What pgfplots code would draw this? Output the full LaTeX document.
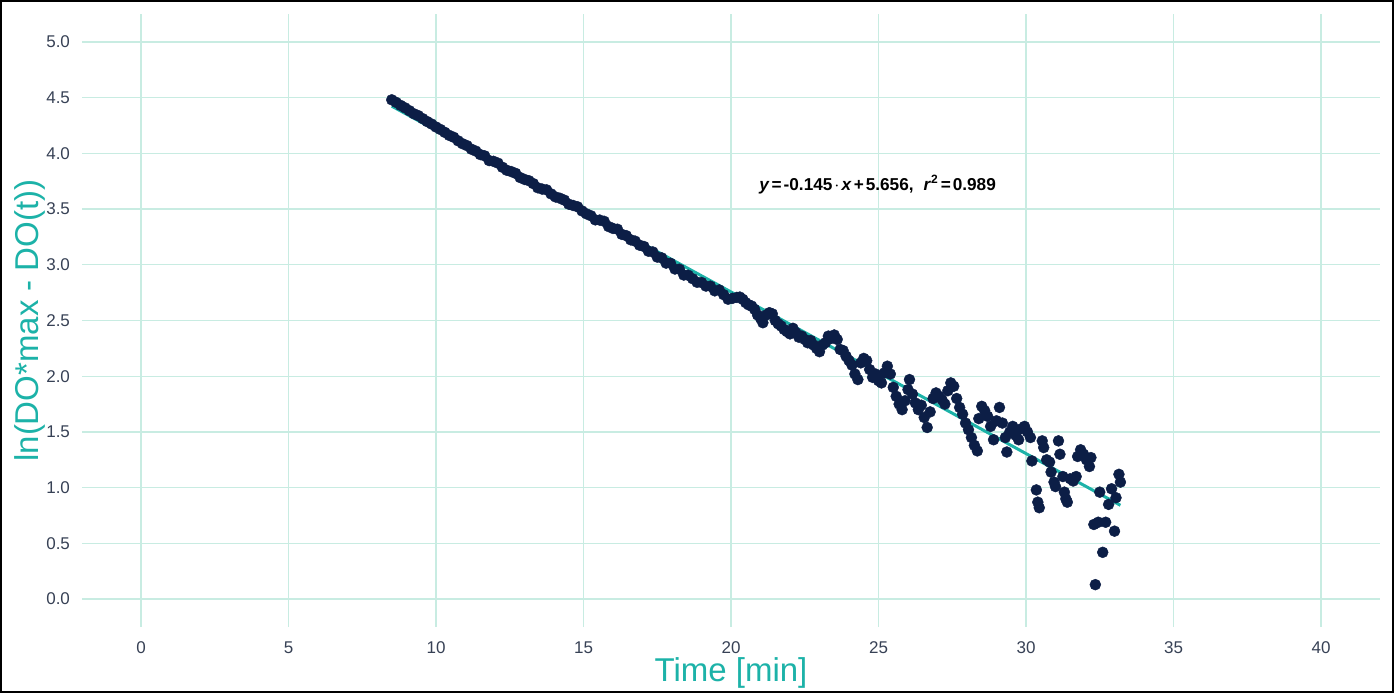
\documentclass[border=0pt]{standalone}
\usepackage{pgfplots}
\pgfplotsset{compat=1.18}
\usepackage{fontspec}
\setmainfont{Liberation Sans}
\definecolor{gridc}{RGB}{200,236,226}
\definecolor{teal2}{RGB}{28,178,168}
\definecolor{navy}{RGB}{12,30,70}
\definecolor{tickc}{RGB}{55,65,85}
\begin{document}
\begin{tikzpicture}
\begin{axis}[
  name=ax,
  scale only axis,
  width=649pt, height=306.5pt,
  xmin=-2, xmax=42, ymin=-0.25, ymax=5.25,
  xtick={0,5,...,40},
  ytick={0,0.5,...,5},
  grid=major,
  major grid style={gridc, line width=0.7pt},
  axis line style={draw=none},
  tick style={draw=none},
  /pgf/number format/assume math mode=true,
  ticklabel style={font=\fontsize{8.5pt}{10pt}\selectfont, text=tickc},
  yticklabel style={/pgf/number format/.cd, fixed, fixed zerofill, precision=1},
  xticklabel shift=4pt,
  yticklabel shift=2.5pt,
  xlabel={Time [min]},
  ylabel={ln(DO*max - DO(t))},
  label style={font=\fontsize{16.5pt}{18pt}\selectfont, text=teal2},
  xlabel style={at={(axis description cs:0.5,-0.075)}, anchor=center},
  ylabel style={at={(axis description cs:-0.04,0.5)}, anchor=center},
  clip=false,
]
\addplot[only marks, mark=*, mark size=2.75pt, mark options={fill=navy, draw=navy, line width=0.2pt}] coordinates {
(8.50,4.480) (8.65,4.457) (8.80,4.430) (8.95,4.408) (9.10,4.382) (9.25,4.355)
(9.40,4.338) (9.55,4.311) (9.70,4.285) (9.85,4.263) (10.00,4.236) (10.15,4.214)
(10.30,4.188) (10.45,4.161) (10.60,4.144) (10.75,4.112) (10.90,4.086) (11.05,4.069)
(11.20,4.037) (11.35,4.020) (11.50,3.989) (11.65,3.977) (11.80,3.935) (11.95,3.928)
(12.10,3.912) (12.25,3.875) (12.40,3.848) (12.55,3.836) (12.70,3.820) (12.85,3.783)
(13.00,3.766) (13.15,3.754) (13.30,3.728) (13.45,3.691) (13.60,3.679) (13.75,3.672)
(13.90,3.636) (14.05,3.609) (14.20,3.597) (14.35,3.580) (14.50,3.544) (14.65,3.532)
(14.80,3.520) (14.95,3.483) (15.10,3.457) (15.25,3.440) (15.40,3.403) (15.55,3.401)
(15.70,3.390) (15.85,3.343) (16.00,3.326) (16.15,3.319) (16.30,3.273) (16.45,3.261)
(16.60,3.224) (16.75,3.212) (16.90,3.176) (17.05,3.164) (17.20,3.122) (17.35,3.115)
(17.50,3.069) (17.65,3.062) (17.80,3.015) (17.95,3.013) (18.10,2.962) (18.25,2.960)
(18.40,2.908) (18.55,2.906) (18.70,2.875) (18.85,2.843) (19.00,2.841) (19.15,2.809)
(19.30,2.808) (19.45,2.766) (19.60,2.774) (19.75,2.732) (19.90,2.691) (20.05,2.699)
(20.20,2.707) (20.30,2.710) (20.40,2.690) (20.50,2.660) (20.60,2.640) (20.70,2.630)
(20.80,2.600) (20.90,2.550) (21.00,2.520) (21.08,2.480) (21.20,2.550) (21.30,2.570)
(21.40,2.560) (21.50,2.500) (21.60,2.470) (21.70,2.450) (21.80,2.420) (21.90,2.400)
(22.00,2.380) (22.10,2.430) (22.20,2.390) (22.30,2.350) (22.40,2.360) (22.50,2.330)
(22.60,2.300) (22.70,2.320) (22.80,2.280) (22.90,2.250) (23.00,2.220) (23.10,2.280)
(23.20,2.300) (23.30,2.360) (23.40,2.340) (23.50,2.370) (23.60,2.330) (23.70,2.240)
(23.80,2.230) (23.90,2.180) (24.00,2.140) (24.10,2.100) (24.20,2.020) (24.30,1.970)
(24.40,2.120) (24.50,2.160) (24.60,2.140) (24.70,2.060) (24.80,1.990) (24.90,2.020)
(25.00,1.960) (25.10,1.940) (25.20,2.030) (25.30,2.090) (25.40,2.020) (25.50,1.900)
(25.60,1.820) (25.70,1.750) (25.80,1.700) (25.90,1.780) (26.00,1.880) (26.05,1.970)
(26.15,1.840) (26.25,1.760) (26.35,1.700) (26.45,1.740) (26.55,1.630) (26.65,1.540)
(26.75,1.680) (26.85,1.800) (26.95,1.850) (27.05,1.820) (27.15,1.790) (27.25,1.750)
(27.35,1.870) (27.45,1.940) (27.55,1.910) (27.65,1.800) (27.75,1.720) (27.85,1.660)
(27.95,1.580) (28.05,1.520) (28.15,1.450) (28.25,1.380) (28.35,1.330) (28.40,1.620)
(28.50,1.730) (28.60,1.690) (28.70,1.640) (28.80,1.550) (28.90,1.430) (29.00,1.600)
(29.10,1.720) (29.20,1.580) (29.30,1.450) (29.35,1.320) (29.45,1.500) (29.55,1.550)
(29.65,1.470) (29.75,1.430) (29.85,1.530) (29.95,1.550) (30.05,1.500) (30.15,1.450)
(30.20,1.240) (30.35,0.980) (30.40,0.870) (30.45,0.820) (30.55,1.420) (30.60,1.360)
(30.70,1.250) (30.80,1.230) (30.85,1.140) (30.95,1.050) (31.00,1.010) (31.10,1.420)
(31.15,1.300) (31.25,1.100) (31.30,0.960) (31.35,0.900) (31.40,0.870) (31.50,1.080)
(31.60,1.060) (31.70,1.100) (31.75,1.280) (31.85,1.340) (31.95,1.300) (32.05,1.250)
(32.15,1.190) (32.20,1.270) (32.30,0.670) (32.35,0.130) (32.45,0.690) (32.50,0.960)
(32.60,0.420) (32.70,0.690) (32.80,0.850) (32.90,0.990) (33.00,0.610) (33.05,0.910)
(33.15,1.120) (33.20,1.050)
};
\addplot[teal2, line width=1.5pt] coordinates {(8.5,4.4235) (33.2,0.842)};
\node[font=\fontsize{8.6pt}{10pt}\selectfont\bfseries, text=black, inner sep=0pt] at (axis cs:24.97,3.72)
  {\textit{y}\hspace{1pt}=\hspace{1pt}-0.145\hspace{1pt}$\cdot$\hspace{1pt}\textit{x}\hspace{1pt}+\hspace{1pt}5.656,\hspace{5pt}\textit{r}\textsuperscript{2}\hspace{1pt}=\hspace{1pt}0.989};
\end{axis}
\path[use as bounding box] ([shift={(-41pt,-33pt)}]ax.south west) rectangle ([shift={(7pt,7pt)}]ax.north east);
\draw[black, line width=0.8pt] ([shift={(-40.6pt,-32.6pt)}]ax.south west) rectangle ([shift={(6.6pt,6.6pt)}]ax.north east);
\end{tikzpicture}
\end{document}
